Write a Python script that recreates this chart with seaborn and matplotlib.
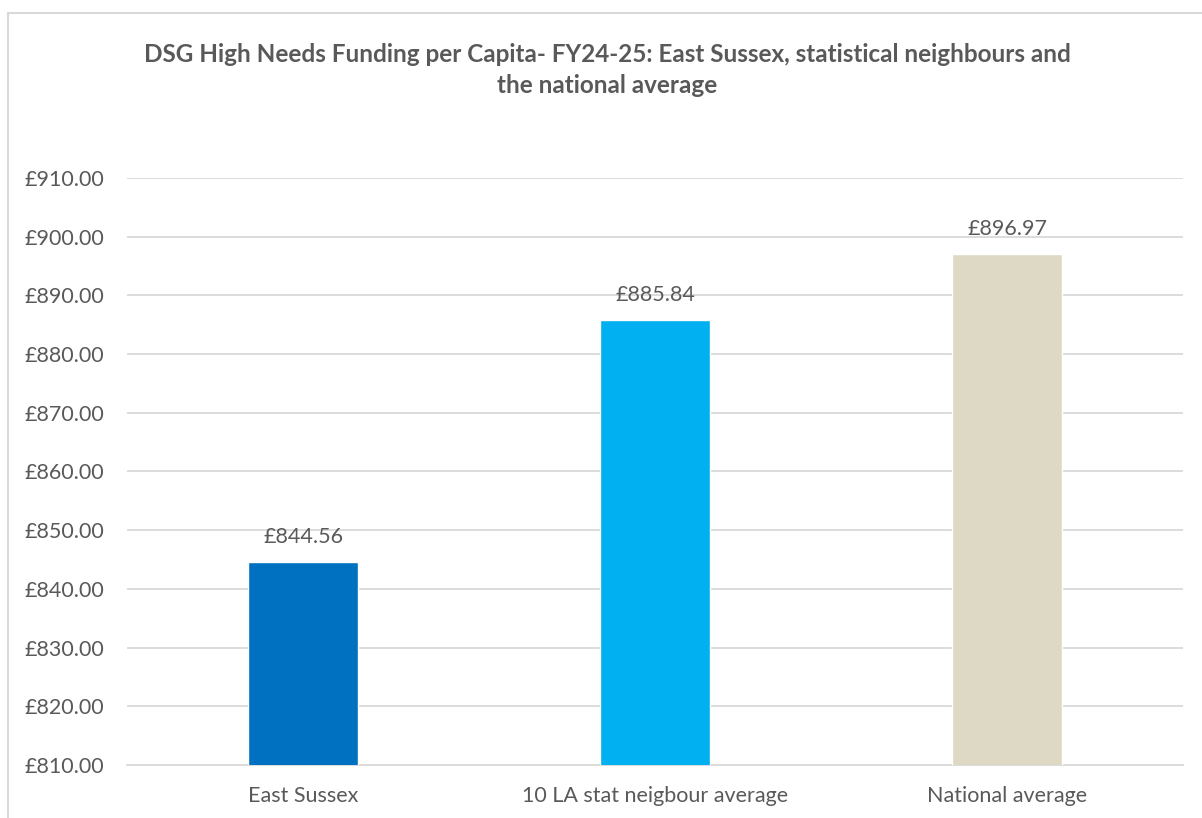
import matplotlib
matplotlib.use("Agg")
import matplotlib.pyplot as plt
from matplotlib.lines import Line2D
import pandas as pd
import seaborn as sns

# Chart data
CATEGORIES = ["East Sussex", "10 LA stat neigbour average", "National average"]
FUNDING = [844.56, 885.84, 896.97]
BAR_COLOURS = ["#0070C0", "#00B0F0", "#DDD9C4"]
Y_TICKS = [810, 820, 830, 840, 850, 860, 870, 880, 890, 900, 910]
TITLE = ("DSG High Needs Funding per Capita- FY24-25: East Sussex, statistical neighbours and\n"
         "the national average")

TEXT_GREY = "#595959"
GRID_GREY = "#D9D9D9"


def main():
    sns.set_style("white")
    plt.rcParams["font.family"] = ["Lato", "DejaVu Sans"]

    df = pd.DataFrame({"category": CATEGORIES, "funding": FUNDING})

    fig = plt.figure(figsize=(12.02, 8.18), dpi=100)
    ax = fig.add_axes([0.1057, 0.0648, 0.8785, 0.7176])

    sns.barplot(data=df, x="category", y="funding", hue="category",
                palette=BAR_COLOURS, width=0.315, legend=False, ax=ax,
                saturation=1, zorder=3)

    ax.set_ylim(Y_TICKS[0], Y_TICKS[-1])
    ax.set_yticks(Y_TICKS)
    ax.set_yticklabels([f"£{v:.2f}" for v in Y_TICKS])
    ax.set_xlim(-0.5, len(CATEGORIES) - 0.5)
    ax.yaxis.grid(True, color=GRID_GREY, linewidth=1.3, zorder=0)
    ax.set_axisbelow(True)
    for side in ["left", "right", "top"]:
        ax.spines[side].set_visible(False)
    ax.spines["bottom"].set_color(GRID_GREY)
    ax.spines["bottom"].set_linewidth(1.3)
    ax.tick_params(axis="both", length=0, labelsize=15.5, colors=TEXT_GREY)
    ax.tick_params(axis="y", pad=16.5)
    ax.tick_params(axis="x", pad=15)
    ax.set_xlabel("")
    ax.set_ylabel("")

    # value labels above bars
    for i, v in enumerate(FUNDING):
        ax.annotate(f"£{v:.2f}", (i, v), xytext=(0, 11), textcoords="offset points",
                    ha="center", va="bottom", fontsize=15.5, color=TEXT_GREY)

    fig.text(0.505, 0.9145, TITLE, ha="center", va="center", fontsize=17.5,
             fontweight="bold", color=TEXT_GREY, linespacing=1.45)

    # chart area border (top and left edges visible in the crop)
    border = dict(color="#D9D9D9", linewidth=1.5)
    fig.add_artist(Line2D([8 / 1202, 1.0], [1 - 13 / 818, 1 - 13 / 818],
                          transform=fig.transFigure, **border))
    fig.add_artist(Line2D([8 / 1202, 8 / 1202], [0.0, 1 - 13 / 818],
                          transform=fig.transFigure, **border))

    fig.savefig("out.png", dpi=100)
    plt.close(fig)


if __name__ == "__main__":
    main()
